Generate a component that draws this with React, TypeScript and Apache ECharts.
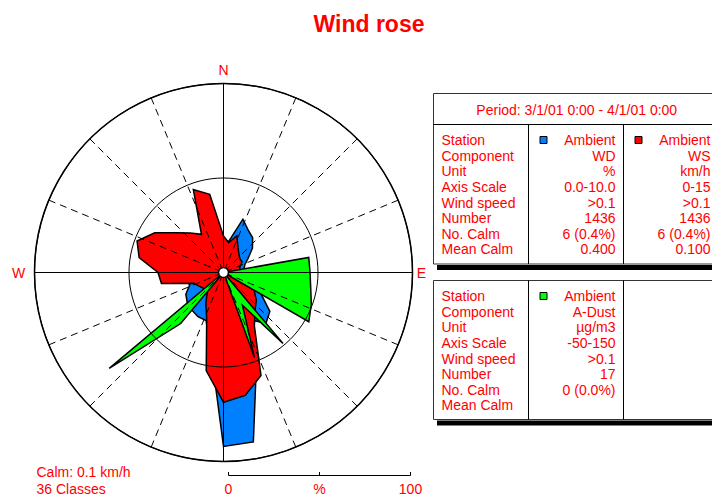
import React, { useEffect, useRef } from "react";
import * as echarts from "echarts";

// ---- data ----
const directions = [
  0, 10, 20, 30, 40, 50, 60, 70, 80, 90, 100, 110, 120, 130, 140, 150, 160, 170,
  180, 190, 200, 210, 220, 230, 240, 250, 260, 270, 280, 290, 300, 310, 320, 330, 340, 350,
];
// Ambient WD (%), axis scale 0-10
const windDirPct = [
  1.6, 1.7, 3.0, 2.6, 2.4, 2.0, 1.5, 1.2, 1.1, 1.1, 1.3, 1.7, 2.3, 3.2, 3.5, 2.9, 5.1, 9.1,
  9.2, 4.0, 2.7, 2.7, 2.6, 2.5, 2.3, 1.9, 2.1, 2.1, 2.4, 2.6, 2.4, 2.1, 1.8, 1.6, 2.1, 1.8,
];
// Ambient WS (km/h), axis scale 0-15
const windSpeed = [
  2.9, 2.4, 3.1, 2.3, 1.9, 1.7, 1.7, 1.4, 1.3, 1.3, 1.6, 2.0, 2.8, 3.4, 3.9, 4.9, 8.7, 9.9,
  10.3, 7.9, 3.9, 2.8, 2.0, 2.0, 2.2, 2.5, 5.0, 5.2, 6.8, 7.3, 6.3, 4.9, 4.1, 3.5, 7.0, 6.3,
];
// Ambient A-Dust (µg/m3), axis scale -50-150 (-50 = no data in class)
const dust = [
  -50, -50, -50, -50, -50, -50, -50, -50, 41.6, 41.6, 43.7, 48.9, 54.2, -50, 47.9, -10, 45.8, -50,
  -50, -50, -50, -50, 20.5, 107.9, -50, -50, -50, -50, -50, -50, -50, -50, -50, -50, -50, -50,
];

const rowLabels = ["Station", "Component", "Unit", "Axis Scale", "Wind speed", "Number", "No. Calm", "Mean Calm"];
const colWD = ["Ambient", "WD", "%", "0.0-10.0", ">0.1", "1436", "6 (0.4%)", "0.400"];
const colWS = ["Ambient", "WS", "km/h", "0-15", ">0.1", "1436", "6 (0.4%)", "0.100"];
const colDust = ["Ambient", "A-Dust", "µg/m3", "-50-150", ">0.1", "17", "0 (0.0%)", ""];
const periodText = "Period: 3/1/01 0:00 - 4/1/01 0:00";
const scaleLabels = ["0", "%", "100"];
const footerLines = ["Calm: 0.1 km/h", "36 Classes"];

// ---- style ----
const FONT = '"Liberation Sans", Arial, sans-serif';
const TXT = "#ff0000";
const BLUE = "#0080ff";
const RED = "#ff0000";
const GREEN = "#00ff00";
const CX = 223.5;
const CY = 272.5;
const R = 189;

function txt(x: number, y: number, t: string, align = "left", size = 14, bold = false) {
  return {
    type: "text",
    x,
    y,
    z: 50,
    silent: true,
    style: {
      text: t,
      fill: TXT,
      font: `${bold ? "bold " : ""}${size}px ${FONT}`,
      align,
      verticalAlign: "middle",
    },
  };
}
function ln(x1: number, y1: number, x2: number, y2: number, w = 1, color = "#000", z = 50) {
  return { type: "line", z, silent: true, shape: { x1, y1, x2, y2 }, style: { stroke: color, lineWidth: w } };
}
function rect(x: number, y: number, w: number, h: number, fill: string, stroke?: string) {
  return {
    type: "rect",
    z: 49,
    silent: true,
    shape: { x, y, width: w, height: h },
    style: { fill, stroke: stroke || null, lineWidth: 1 },
  };
}

function tableGraphics(top: number, bodyTop: number, bottom: number, header: string | null, cols: { vals: string[]; color: string }[]) {
  const left = 433.5;
  const right = 722;
  const g: any[] = [];
  g.push(rect(left, top, right - left, bottom - top, "#fff", "#333"));
  g.push(rect(437, bottom + 1, right - 437, 5, "#000"));
  if (header) {
    g.push(ln(left, bodyTop, right, bodyTop));
    g.push(txt((left + 720) / 2, (top + bodyTop) / 2 + 0.5, header, "center"));
  }
  g.push(ln(528.5, bodyTop, 528.5, bottom));
  g.push(ln(623.5, bodyTop, 623.5, bottom));
  const step = 15.6;
  rowLabels.forEach((l, i) => g.push(txt(441.5, bodyTop + 15.6 + i * step, l)));
  const colRight = [615.5, 710.5];
  const markerX = [540, 635];
  cols.forEach((c, ci) => {
    g.push({
      type: "rect",
      z: 51,
      silent: true,
      shape: { x: markerX[ci], y: bodyTop + 12, width: 7, height: 7 },
      style: { fill: c.color, stroke: "#000", lineWidth: 1 },
    });
    c.vals.forEach((v, i) => {
      if (v) g.push(txt(colRight[ci], bodyTop + 15.6 + i * step, v, "right"));
    });
  });
  return g;
}

function toPolar(vals: number[]) {
  const d = vals.map((v, i) => [v, directions[i]]);
  d.push([vals[0], 360]);
  return d;
}

function polarSeries(idx: number, vals: number[], color: string) {
  return {
    type: "line",
    coordinateSystem: "polar",
    polarIndex: idx,
    data: toPolar(vals),
    symbol: "none",
    showSymbol: false,
    silent: true,
    clip: false,
    z: 2 + idx,
    lineStyle: { color: "#000", width: 1.5, join: "miter" },
    itemStyle: { color },
    areaStyle: { color, opacity: 1, origin: "start" },
  };
}

export default function App() {
  const ref = useRef<HTMLDivElement>(null);
  useEffect(() => {
    if (!ref.current) return;
    const chart = echarts.init(ref.current, null, { renderer: "svg" });
    const hidden = { show: false };
    const angleBase = { type: "value", min: 0, max: 360, startAngle: 90, clockwise: true, axisTick: hidden, axisLabel: hidden };
    const graphics: any[] = [
      txt(369, 24, "Wind rose", "center", 23, true),
      txt(CX, CY - R - 14, "N", "center"),
      txt(CX + R + 9, CY, "E", "center"),
      txt(CX - R - 16, CY, "W", "center"),
      // main compass cross (solid)
      ln(CX - R, CY, CX + R, CY, 1, "#000", 55),
      ln(CX, CY - R, CX, CY + R, 1, "#000", 55),
      {
        type: "circle",
        z: 60,
        silent: true,
        shape: { cx: CX, cy: CY, r: 5 },
        style: { fill: "#fff", stroke: "#000", lineWidth: 1.5 },
      },
      ...tableGraphics(93.5, 124.5, 264, periodText, [
        { vals: colWD, color: BLUE },
        { vals: colWS, color: RED },
      ]),
      ...tableGraphics(280.5, 280.5, 419.5, null, [{ vals: colDust, color: GREEN }]),
      ln(228.5, 475.5, 410.5, 475.5),
      ln(228.5, 472, 228.5, 475.5),
      ln(319.5, 472, 319.5, 475.5),
      ln(410.5, 472, 410.5, 475.5),
      txt(228.5, 488.5, scaleLabels[0], "center"),
      txt(319.5, 488.5, scaleLabels[1], "center"),
      txt(410.5, 488.5, scaleLabels[2], "center"),
      txt(36.5, 472, footerLines[0]),
      txt(36.5, 488.5, footerLines[1]),
    ];
    chart.setOption({
      animation: false,
      backgroundColor: "#fff",
      polar: [0, 1, 2].map(() => ({ center: [CX, CY], radius: R })),
      angleAxis: [
        {
          ...angleBase,
          polarIndex: 0,
          interval: 22.5,
          z: 10,
          axisLine: { show: true, lineStyle: { color: "#000", width: 1.5 } },
          splitLine: { show: true, lineStyle: { color: "#000", width: 1, type: [7, 5] } },
        },
        { ...angleBase, polarIndex: 1, interval: 90, axisLine: hidden, splitLine: hidden },
        { ...angleBase, polarIndex: 2, interval: 90, axisLine: hidden, splitLine: hidden },
      ],
      radiusAxis: [
        {
          type: "value",
          polarIndex: 0,
          min: 0,
          max: 10,
          interval: 5,
          z: 10,
          axisLine: hidden,
          axisTick: hidden,
          axisLabel: hidden,
          splitLine: { show: true, lineStyle: { color: "#000", width: 1 } },
        },
        { type: "value", polarIndex: 1, min: 0, max: 15, axisLine: hidden, axisTick: hidden, axisLabel: hidden, splitLine: hidden },
        { type: "value", polarIndex: 2, min: -50, max: 150, axisLine: hidden, axisTick: hidden, axisLabel: hidden, splitLine: hidden },
      ],
      series: [polarSeries(0, windDirPct, BLUE), polarSeries(1, windSpeed, RED), polarSeries(2, dust, GREEN)],
      graphic: graphics,
    });
    return () => chart.dispose();
  }, []);
  return <div ref={ref} style={{ position: "fixed", left: 0, top: 0, width: 712, height: 497 }} />;
}
